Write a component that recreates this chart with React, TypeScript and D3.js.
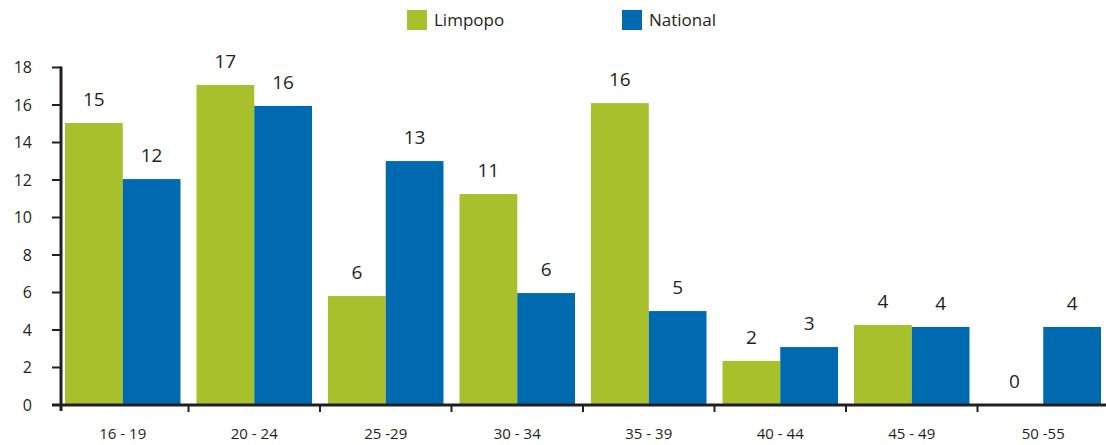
import React, { useEffect, useRef } from "react";
import * as d3 from "d3";

const categories = ["16 - 19", "20 - 24", "25 -29", "30 - 34", "35 - 39", "40 - 44", "45 - 49", "50 -55"];
const limpopo = [15.04, 17.07, 5.81, 11.25, 16.1, 2.35, 4.27, 0];
const national = [12.05, 15.95, 13.01, 5.97, 5.01, 3.09, 4.16, 4.16];
const seriesNames = ["Limpopo", "National"];
const colors = ["#A9C02D", "#006AB0"];
const yTicks = [0, 2, 4, 6, 8, 10, 12, 14, 16, 18];

const FONT = "'Open Sans', 'DejaVu Sans', sans-serif";

const App = () => {
  const svgRef = useRef<SVGSVGElement | null>(null);

  useEffect(() => {
    if (!svgRef.current) return;
    const svg = d3.select(svgRef.current);
    svg.selectAll("*").remove();

    const x = d3.scaleBand<string>().domain(categories).range([57, 1109]).paddingInner(0).paddingOuter(0);
    const inner = d3
      .scaleBand<string>()
      .domain(seriesNames)
      .range([8, x.bandwidth() - 8]);
    const y = d3.scaleLinear().domain([0, 18]).range([405, 67.5]);

    const series = [limpopo, national];

    // bars
    series.forEach((vals, si) => {
      svg
        .append("g")
        .selectAll("rect")
        .data(vals)
        .enter()
        .append("rect")
        .attr("x", (_, i) => (x(categories[i]) ?? 0) + (inner(seriesNames[si]) ?? 0))
        .attr("y", (d) => y(d))
        .attr("width", inner.bandwidth())
        .attr("height", (d) => y(0) - y(d))
        .attr("fill", colors[si]);

      svg
        .append("g")
        .selectAll("text")
        .data(vals)
        .enter()
        .append("text")
        .attr("x", (_, i) => (x(categories[i]) ?? 0) + (inner(seriesNames[si]) ?? 0) + inner.bandwidth() / 2)
        .attr("y", (d) => y(d) - 24)
        .attr("dy", "0.35em")
        .attr("text-anchor", "middle")
        .style("font-family", FONT)
        .style("font-size", "19px")
        .style("fill", "#231f20")
        .text((d) => Math.round(d));
    });

    // y axis
    const yAxis = svg.append("g").attr("transform", "translate(61,0)");
    yAxis
      .append("line")
      .attr("x1", 0)
      .attr("x2", 0)
      .attr("y1", y(18) - 1)
      .attr("y2", y(0) + 6)
      .attr("stroke", "#231f20")
      .attr("stroke-width", 3);
    yAxis
      .selectAll("line.tick")
      .data(yTicks)
      .enter()
      .append("line")
      .attr("class", "tick")
      .attr("x1", -9)
      .attr("x2", 0)
      .attr("y1", (d) => y(d))
      .attr("y2", (d) => y(d))
      .attr("stroke", "#231f20")
      .attr("stroke-width", 2);
    yAxis
      .selectAll("text")
      .data(yTicks)
      .enter()
      .append("text")
      .attr("x", -29)
      .attr("y", (d) => y(d))
      .attr("dy", "0.35em")
      .attr("text-anchor", "end")
      .style("font-family", FONT)
      .style("font-size", "16px")
      .style("fill", "#231f20")
      .text((d) => d);

    // x axis
    const xAxis = svg.append("g");
    xAxis
      .append("line")
      .attr("x1", 52)
      .attr("x2", 1106)
      .attr("y1", y(0))
      .attr("y2", y(0))
      .attr("stroke", "#231f20")
      .attr("stroke-width", 3);
    xAxis
      .selectAll("line.tick")
      .data(categories.slice(1))
      .enter()
      .append("line")
      .attr("class", "tick")
      .attr("x1", (d) => x(d) ?? 0)
      .attr("x2", (d) => x(d) ?? 0)
      .attr("y1", y(0))
      .attr("y2", y(0) + 7)
      .attr("stroke", "#231f20")
      .attr("stroke-width", 2);
    xAxis
      .selectAll("text")
      .data(categories)
      .enter()
      .append("text")
      .attr("x", (d) => (x(d) ?? 0) + x.bandwidth() / 2)
      .attr("y", 434)
      .attr("dy", "0.35em")
      .attr("text-anchor", "middle")
      .style("font-family", FONT)
      .style("font-size", "15px")
      .style("fill", "#231f20")
      .text((d) => d);

    // legend
    const legendX = [407, 622];
    const legend = svg.append("g");
    seriesNames.forEach((name, i) => {
      legend
        .append("rect")
        .attr("x", legendX[i])
        .attr("y", 10)
        .attr("width", 20)
        .attr("height", 20)
        .attr("fill", colors[i]);
      legend
        .append("text")
        .attr("x", legendX[i] + 27)
        .attr("y", 20)
        .attr("dy", "0.35em")
        .style("font-family", FONT)
        .style("font-size", "17px")
        .style("fill", "#231f20")
        .text(name);
    });
  }, []);

  return (
    <div style={{ position: "absolute", left: 0, top: 0 }}>
      <svg ref={svgRef} width={1106} height={445} />
    </div>
  );
};

export default App;
